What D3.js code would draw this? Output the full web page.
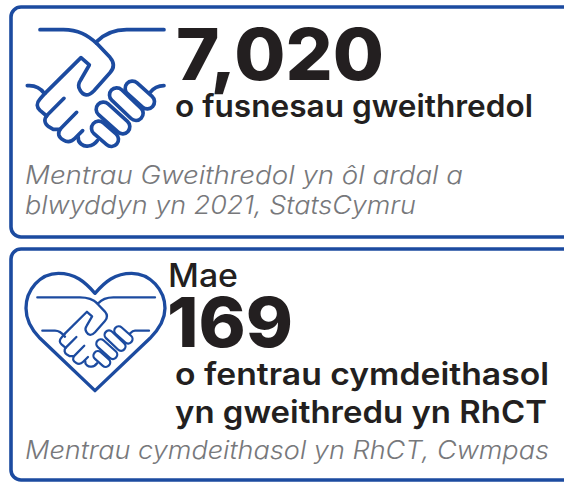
<!DOCTYPE html>
<html>
<head>
<meta charset="utf-8">
<script src="https://cdn.jsdelivr.net/npm/d3@7"></script>
<style>
  html, body { margin: 0; padding: 0; background: #fff; }
  svg { display: block; }
</style>
</head>
<body>
<div id="chart"></div>
<script>
// Values and wording
var figures = [7020, 169];
var leadWords = ["", "Mae"];
var captions = [["o fusnesau gweithredol"], ["o fentrau cymdeithasol", "yn gweithredu yn RhCT"]];
var sources = [["Mentrau Gweithredol yn ôl ardal a", "blwyddyn yn 2021, StatsCymru"], ["Mentrau cymdeithasol yn RhCT, Cwmpas"]];

var blue = "#1c4ba0", ink = "#231f20", grey = "#77787b";
var fmt = d3.format(",");

var svg = d3.select("#chart").append("svg")
  .attr("width", 564)
  .attr("height", 486);

// card outlines, open past the right edge of the picture
var cards = [{y: 7, h: 230}, {y: 249, h: 231}];
svg.selectAll("rect.card")
  .data(cards)
  .enter()
  .append("rect")
  .attr("class", "card")
  .attr("x", 11)
  .attr("y", d => d.y)
  .attr("width", 600)
  .attr("height", d => d.h)
  .attr("rx", 10)
  .attr("fill", "none")
  .attr("stroke", blue)
  .attr("stroke-width", 3.6);

// Handshake icon, drawn in units of a third of a pixel
var handPaths = [
  "M290,130 L330,172 C345,190 342,205 330,218 L282,272 C265,290 250,288 240,270 C232,258 235,250 242,240 L268,195 L243,173 L135,280",
  "M135,280 L120,297 C108,310 110,322 120,331 L140,348",
  "M192,295 L142,345 C130,358 134,372 146,380 L160,388 L178,388",
  "M230,337 L183,385 C170,400 176,412 190,420 C205,430 215,425 225,415 L248,392",
  "M235,412 C232,428 250,441 265,438 C278,437 285,432 292,422"
];
var fingers = [
  {x1: 397, y1: 265, x2: 442, y2: 305},
  {x1: 350, y1: 285, x2: 408, y2: 340},
  {x1: 310, y1: 328, x2: 368, y2: 380},
  {x1: 296, y1: 385, x2: 334, y2: 418}
];

function drawHand(g, sw) {
  g.selectAll("path.hand")
    .data(handPaths)
    .enter()
    .append("path")
    .attr("class", "hand")
    .attr("d", d => d)
    .attr("fill", "none")
    .attr("stroke", blue)
    .attr("stroke-width", sw)
    .attr("stroke-linecap", "round")
    .attr("stroke-linejoin", "round");

  // each finger: a blue stroke with a white one on top
  [[blue, 54], ["#fff", 54 - sw * 2]].forEach(function(pass) {
    g.selectAll("line.f" + pass[1])
      .data(fingers)
      .enter()
      .append("line")
      .attr("class", "f" + pass[1])
      .attr("x1", d => d.x1).attr("y1", d => d.y1)
      .attr("x2", d => d.x2).attr("y2", d => d.y2)
      .attr("stroke", pass[0])
      .attr("stroke-width", pass[1])
      .attr("stroke-linecap", "round");
  });
}

function addLines(g, list, sw) {
  g.selectAll("path.cuff")
    .data(list)
    .enter()
    .append("path")
    .attr("class", "cuff")
    .attr("d", d => d)
    .attr("fill", "none")
    .attr("stroke", blue)
    .attr("stroke-width", sw)
    .attr("stroke-linecap", "round");
}

// big handshake
var icon1 = svg.append("g").attr("transform", "scale(0.3333)");
addLines(icon1, [
  "M120,89 H190 C235,89 262,105 290,130",
  "M492,89 H380 C340,89 310,105 290,125",
  "M82,257 C105,255 122,265 133,280",
  "M492,257 C470,257 460,265 450,278"
], 11);
drawHand(icon1, 11);

// heart with the smaller handshake
var icon2 = svg.append("g").attr("transform", "translate(0,240) scale(0.3333)");
icon2.append("path")
  .attr("d", "M285,160 C255,125 225,100 175,100 C120,100 78,150 78,205 C78,240 95,270 120,295 L285,452 L450,295 C475,270 495,240 495,205 C495,150 450,100 395,100 C345,100 315,125 285,160 Z")
  .attr("fill", "none")
  .attr("stroke", blue)
  .attr("stroke-width", 10)
  .attr("stroke-linejoin", "round");
addLines(icon2, [
  "M112,172 H240 C262,172 280,178 292,190",
  "M465,172 H340 C320,172 305,178 295,190",
  "M127,272 H165 C180,272 187,280 195,290",
  "M447,272 H405 C395,272 392,280 385,285"
], 7);
var small = icon2.append("g").attr("transform", "translate(290,190) scale(0.62) translate(-290,-132)");
drawHand(small, 11);

// Text
function label(str, x, y, width, size, weight, color, italic) {
  return svg.append("text")
    .attr("x", x)
    .attr("y", y)
    .attr("textLength", width)
    .attr("lengthAdjust", "spacingAndGlyphs")
    .attr("font-family", "Inter, 'Open Sans', sans-serif")
    .attr("font-size", size)
    .attr("font-weight", weight)
    .attr("font-style", italic ? "italic" : "normal")
    .attr("fill", color)
    .text(str);
}

label(fmt(figures[0]), 176, 80, 208, 71, 800, ink);
label(captions[0][0], 175, 117, 358, 31, 600, ink);
label(sources[0][0], 25, 184, 438, 25, 300, grey, true);
label(sources[0][1], 25, 214, 391, 25, 300, grey, true);

label(leadWords[1], 168, 287, 70, 32, 500, ink);
label(fmt(figures[1]), 167, 347, 126, 69, 800, ink);
label(captions[1][0], 175, 385, 374, 31, 600, ink);
label(captions[1][1], 175, 423, 372, 31, 600, ink);
label(sources[1][0], 25, 459, 524, 25, 300, grey, true);
</script>
</body>
</html>
